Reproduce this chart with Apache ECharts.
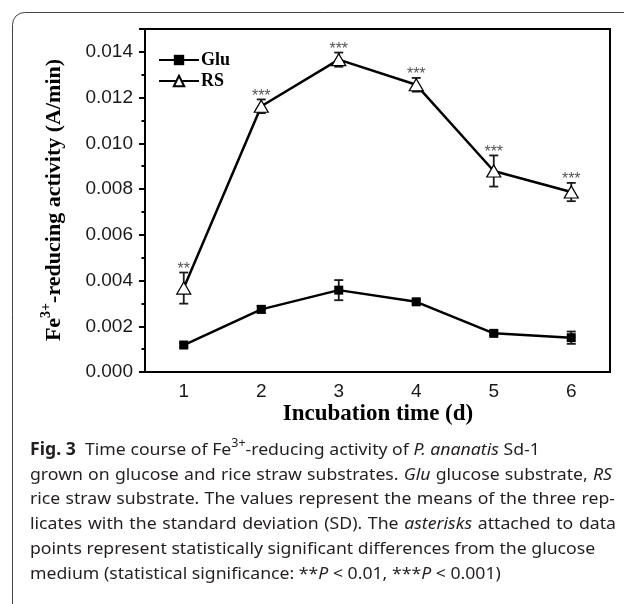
<!DOCTYPE html>
<html>
<head>
<meta charset="utf-8">
<script src="https://cdn.jsdelivr.net/npm/echarts@6/dist/echarts.min.js"></script>
<style>
html,body{margin:0;padding:0;background:#fff;}
#chart{width:624px;height:604px;}
</style>
</head>
<body>
<div id="chart"></div>
<script>
// ---- data ----
const days = ['1', '2', '3', '4', '5', '6'];
const gluMean = [0.00118, 0.00274, 0.00358, 0.00307, 0.00169, 0.00150];
const gluSD   = [0.00010, 0.00015, 0.00044, 0.00010, 0.00010, 0.00027];
const rsMean  = [0.00367, 0.01162, 0.01366, 0.01256, 0.00879, 0.00787];
const rsSD    = [0.00068, 0.00030, 0.00031, 0.00030, 0.00068, 0.00040];
const rsSig   = ['**', '***', '***', '***', '***', '***'];
const yTicks  = ['0.000', '0.002', '0.004', '0.006', '0.008', '0.010', '0.012', '0.014'];
const captionLines = [
  '{b|Fig.} {b|3}  Time course of Fe{s|3+}-reducing activity of {i|P. ananatis} Sd-1',
  'grown on glucose and rice straw substrates. {i|Glu} glucose substrate, {i|RS}',
  'rice straw substrate. The values represent the means of the three rep-',
  'licates with the standard deviation (SD). The {i|asterisks} attached to data',
  'points represent statistically significant differences from the glucose',
  'medium (statistical significance: **{i|P} < 0.01, ***{i|P} < 0.001)'
];
// layout: justified right edge per caption line (null = ragged)
const captionJustify = [null, 612, 615, 616, null, null];

const chart = echarts.init(document.getElementById('chart'), null, {renderer: 'canvas'});

const serif = '"Liberation Serif", "Times New Roman", serif';
const sans = '"Liberation Sans", Arial, sans-serif';
const capFont = '"Noto Sans", "Open Sans", sans-serif';
const capSize = 17;
const capLeft = 30;
const capTop = 450;
const capStep = 24.8;
const capColor = '#231f20';
const cv = document.createElement('canvas').getContext('2d');
const styleFont = {
  r: capSize + 'px ' + capFont,
  b: 'bold ' + capSize + 'px ' + capFont,
  i: 'italic ' + capSize + 'px ' + capFont,
  s: '12px ' + capFont
};
let glyphScale = 1;
function measure(st, txt) {
  cv.font = styleFont[st];
  return cv.measureText(txt).width * glyphScale;
}
function tokenize(t) {
  const re = /\{(\w)\|([^}]*)\}|([^{]+)/g;
  const words = [[]];
  let m;
  while ((m = re.exec(t)) !== null) {
    const st = m[1] || 'r';
    const txt = m[1] ? m[2] : m[3];
    const parts = txt.split(' ');
    parts.forEach((p, j) => {
      if (j > 0) words.push([]);
      if (p.length) words[words.length - 1].push({st: st, txt: p});
    });
  }
  return words;
}
function naturalWidth(line) {
  const words = tokenize(line);
  const sp = measure('r', ' ');
  return words.reduce((a, w) => a + w.reduce((b, p) => b + measure(p.st, p.txt), 0), 0) + sp * (words.length - 1);
}
// glyph scale so that line 2 set naturally spans the text block
glyphScale = (606 - capLeft) / naturalWidth(captionLines[1]);

function captionGraphics() {
  const out = [];
  const spaceW = measure('r', ' ');
  captionLines.forEach((line, k) => {
    const words = tokenize(line);
    const widths = words.map(w => w.reduce((a, p) => a + measure(p.st, p.txt), 0));
    const nSp = words.length - 1;
    let gap = spaceW;
    if (captionJustify[k] !== null && nSp > 0) {
      const total = widths.reduce((a, b) => a + b, 0);
      gap = Math.max(spaceW * 0.8, (captionJustify[k] - capLeft - total) / nSp);
    }
    const yc = capTop + k * capStep;
    let x = capLeft;
    words.forEach((w) => {
      w.forEach(p => {
        const sup = p.st === 's';
        out.push({type: 'text', x: x, y: sup ? yc - 6 : yc, scaleX: glyphScale, silent: true,
          style: {text: p.txt, font: styleFont[p.st], fill: capColor, align: 'left', verticalAlign: 'middle'}});
        x += measure(p.st, p.txt);
      });
      x += gap;
    });
  });
  return out;
}

function errData(mean, sd) {
  return mean.map((m, i) => [i, m, sd[i]]);
}

function errRender(sig) {
  return function (params, api) {
    const x = api.value(0), m = api.value(1), s = api.value(2);
    const top = api.coord([x, m + s]);
    const bot = api.coord([x, m - s]);
    const hw = 4.5;
    const st = {stroke: '#1a1a1a', lineWidth: 1.8};
    const ch = [
      {type: 'line', shape: {x1: top[0], y1: top[1], x2: bot[0], y2: bot[1]}, style: st},
      {type: 'line', shape: {x1: top[0] - hw, y1: top[1], x2: top[0] + hw, y2: top[1]}, style: st},
      {type: 'line', shape: {x1: bot[0] - hw, y1: bot[1], x2: bot[0] + hw, y2: bot[1]}, style: st}
    ];
    if (sig) {
      ch.push({type: 'text', x: top[0], y: top[1] - 3,
        style: {text: sig[params.dataIndex], font: '16px "Liberation Sans", Arial, sans-serif',
          fill: '#555', align: 'center', verticalAlign: 'middle'}});
    }
    return {type: 'group', children: ch};
  };
}

const graphics = [
  {type: 'rect', silent: true, z: -1,
    shape: {x: 12.5, y: 12.5, width: 900, height: 900, r: 12},
    style: {fill: 'none', stroke: '#444', lineWidth: 1}},
  {type: 'text', x: 54, y: 200, rotation: Math.PI / 2,
    style: {text: '{a|Fe}{s|3+}{a|-reducing activity (A/min)}', align: 'center', verticalAlign: 'middle',
      rich: {a: {fontFamily: serif, fontWeight: 'bold', fontSize: 22, fill: '#000', lineHeight: 30},
             s: {fontFamily: serif, fontWeight: 'bold', fontSize: 14, fill: '#000', verticalAlign: 'top', lineHeight: 30}}}},
  {type: 'text', x: 378, y: 414,
    style: {text: 'Incubation time (d)', font: 'bold 23px ' + serif, fill: '#000', align: 'center', verticalAlign: 'middle'}}
].concat(captionGraphics());

const option = {
  animation: false,
  backgroundColor: '#fff',
  grid: {left: 145, right: 14, top: 29, bottom: 232, show: true, borderColor: '#000', borderWidth: 2},
  legend: {
    orient: 'vertical', left: 158, top: 51, padding: 0, itemWidth: 40, itemHeight: 13, itemGap: 3,
    data: ['Glu', 'RS'],
    textStyle: {fontFamily: serif, fontWeight: 'bold', fontSize: 18, color: '#000', padding: [0, 0, 0, -3]}
  },
  xAxis: {
    type: 'category', data: days, boundaryGap: true,
    axisLine: {lineStyle: {color: '#000', width: 2}},
    axisTick: {alignWithLabel: true, length: 5, lineStyle: {color: '#000', width: 2}},
    axisLabel: {fontFamily: sans, fontSize: 19, color: '#1a1a1a', margin: 10},
    splitLine: {show: false}
  },
  yAxis: [{
    type: 'value', min: 0, max: 0.015, interval: 0.002,
    axisLine: {show: true, lineStyle: {color: '#000', width: 2}},
    axisTick: {show: true, length: 6, lineStyle: {color: '#000', width: 2}},
    axisLabel: {fontFamily: sans, fontSize: 19, color: '#1a1a1a', margin: 12,
      formatter: function (v) {
        const k = Math.round(v / 0.002);
        return Math.abs(v - k * 0.002) < 1e-9 && k < yTicks.length ? yTicks[k] : '';
      }},
    splitLine: {show: false}
  }, {
    type: 'value', min: 0, max: 0.015, interval: 0.001, position: 'left',
    axisLine: {show: false},
    axisTick: {show: true, length: 3.5, lineStyle: {color: '#000', width: 2}},
    axisLabel: {show: false},
    splitLine: {show: false}
  }],
  graphic: graphics,
  series: [
    {type: 'custom', name: 'gluErr', data: errData(gluMean, gluSD), renderItem: errRender(null), z: 1, silent: true},
    {type: 'custom', name: 'rsErr', data: errData(rsMean, rsSD), renderItem: errRender(rsSig), z: 1, silent: true},
    {type: 'line', name: 'Glu', data: gluMean, z: 3,
      symbol: 'rect', symbolSize: 9, showAllSymbol: true,
      itemStyle: {color: '#000'}, lineStyle: {color: '#000', width: 2.5}},
    {type: 'line', name: 'RS', data: rsMean, z: 3,
      symbol: 'triangle', symbolSize: [14, 12], showAllSymbol: true,
      itemStyle: {color: '#fff', borderColor: '#000', borderWidth: 1.2},
      lineStyle: {color: '#000', width: 2.5}}
  ]
};
chart.setOption(option);
</script>
</body>
</html>
